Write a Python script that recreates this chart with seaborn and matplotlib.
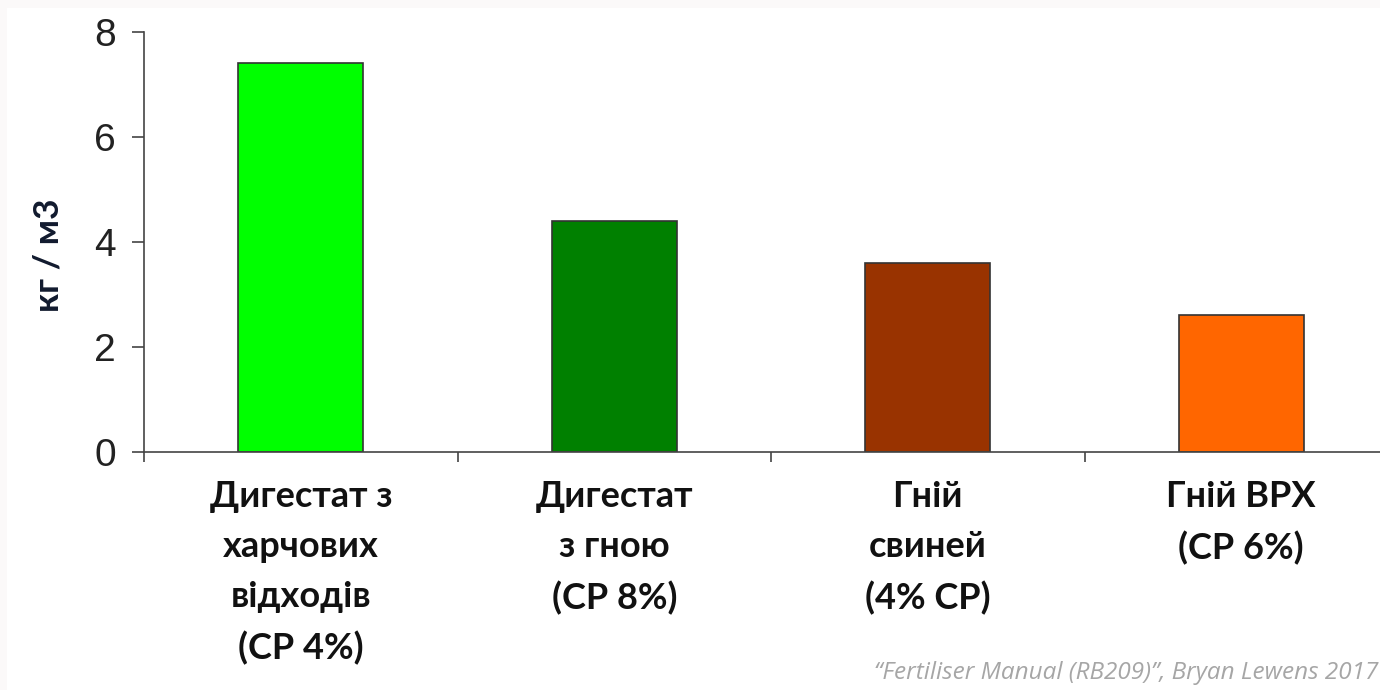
import matplotlib
matplotlib.use("Agg")
import matplotlib.pyplot as plt
from matplotlib.patches import Rectangle
import seaborn as sns
import pandas as pd

# Data: nutrient content of organic fertilisers, kg per m3
categories = [
    "Дигестат з\nхарчових\nвідходів\n(СР 4%)",
    "Дигестат\nз гною\n(СР 8%)",
    "Гній\nсвиней\n(4% СР)",
    "Гній ВРХ\n(СР 6%)",
]
values = [7.4, 4.4, 3.6, 2.6]
bar_colors = ["#00ff00", "#008000", "#993300", "#ff6600"]
y_ticks = [0, 2, 4, 6, 8]
y_label = "кг / м3"
source_note = "“Fertiliser Manual (RB209)”, Bryan Lewens 2017"

df = pd.DataFrame({"category": categories, "value": values})

sns.set_theme(style="white")
plt.rcParams["font.family"] = ["Liberation Sans", "DejaVu Sans"]

fig = plt.figure(figsize=(13.8, 6.9), dpi=100)
fig.patch.set_facecolor("#fbf9f9")
fig.add_artist(Rectangle((7 / 1380, 0), 1, 1 - 8 / 690, transform=fig.transFigure,
                         facecolor="white", edgecolor="none", zorder=-1))

ax = fig.add_axes([144 / 1380, 1 - 452 / 690, 1254 / 1380, (452 - 31.7) / 690])
ax.set_facecolor("none")

sns.barplot(data=df, x="category", y="value", hue="category", palette=bar_colors,
            legend=False, width=0.4, edgecolor="#333333", linewidth=1.2,
            saturation=1, ax=ax)

ax.set_xlim(-0.5, len(categories) - 0.5)
ax.set_ylim(0, 8)

# Axis frame: left and bottom lines only
for side in ("top", "right"):
    ax.spines[side].set_visible(False)
for side in ("left", "bottom"):
    ax.spines[side].set_color("#444444")
    ax.spines[side].set_linewidth(1.2)
ax.spines["left"].set_bounds(0, 8)

ax.set_yticks(y_ticks)
ax.set_yticklabels([str(t) for t in y_ticks])
ax.tick_params(axis="y", which="major", length=8.6, width=1.2, color="#444444",
               pad=11.5, labelsize=28, labelcolor="#222222", left=True)

# Tick marks at category boundaries, labels at category centres
ax.set_xticks([i - 0.5 for i in range(len(categories) + 1)])
ax.set_xticklabels([""] * (len(categories) + 1))
ax.tick_params(axis="x", which="major", length=7.2, width=1.2, color="#444444",
               bottom=True, direction="out")
ax.set_xticks(range(len(categories)), minor=True)
ax.set_xticklabels(categories, minor=True, fontfamily=["Lato", "DejaVu Sans"],
                   fontweight="bold", fontsize=26, color="#111111",
                   linespacing=1.63, ha="center", va="top")
ax.tick_params(axis="x", which="minor", length=0, pad=20)

ax.set_xlabel("")
ax.set_ylabel(y_label, fontfamily=["Lato", "DejaVu Sans"], fontweight="bold",
              fontsize=25.5, color="#111a2e")
ax.yaxis.set_label_coords(-80 / 1254, (452 - 255) / 420.3)

fig.text(1378 / 1380, 1 - 673 / 690, source_note, ha="right", va="center",
         fontfamily=["Open Sans", "DejaVu Sans"], fontstyle="italic", fontsize=17.5,
         color="#a6a6a6")

fig.savefig("out.png", dpi=100, facecolor=fig.get_facecolor())
